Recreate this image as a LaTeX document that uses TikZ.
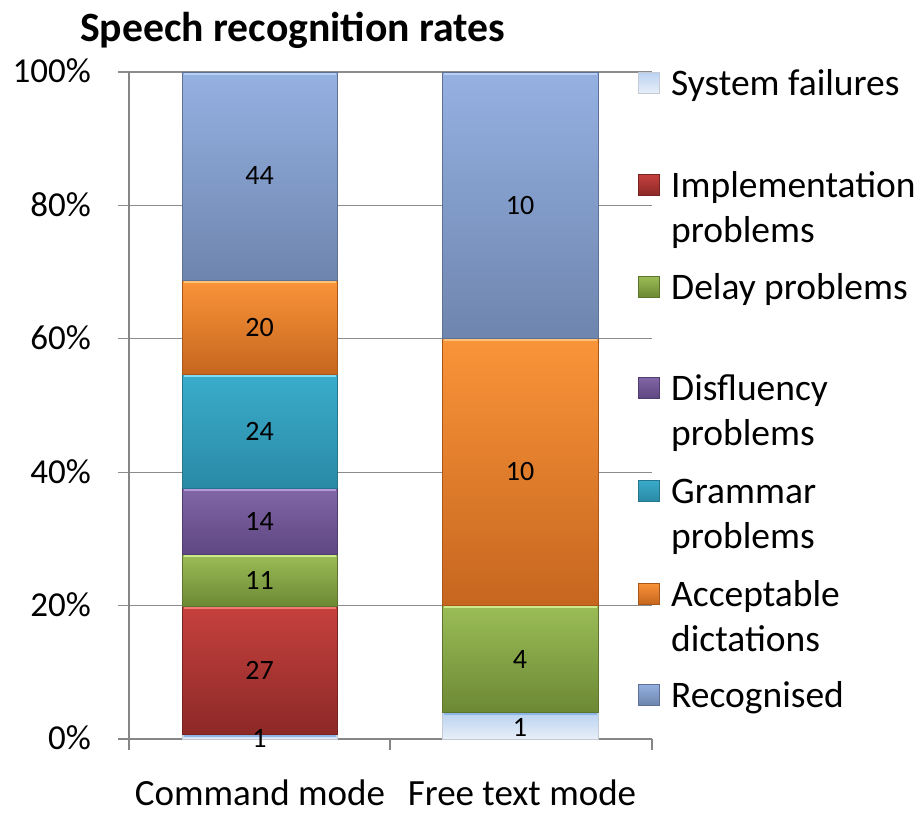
\documentclass[tikz,border=0pt]{standalone}
\usepackage{fontspec}
\setmainfont{Carlito}
\definecolor{gridc}{HTML}{8C8C8C}
\definecolor{axisc}{HTML}{868686}
\definecolor{recT}{HTML}{95B1E2}\definecolor{recB}{HTML}{6E85AE}\definecolor{recH}{HTML}{B9D0F2}
\definecolor{accT}{HTML}{FA9439}\definecolor{accB}{HTML}{C6661F}\definecolor{accH}{HTML}{FFC27A}
\definecolor{graT}{HTML}{3AACCB}\definecolor{graB}{HTML}{2A8AA6}\definecolor{graH}{HTML}{7FDDF2}
\definecolor{disT}{HTML}{8266A6}\definecolor{disB}{HTML}{5E4782}\definecolor{disH}{HTML}{B49AD8}
\definecolor{delT}{HTML}{9BBD57}\definecolor{delB}{HTML}{6C8834}\definecolor{delH}{HTML}{CDEB8A}
\definecolor{impT}{HTML}{C6413E}\definecolor{impB}{HTML}{8C2927}\definecolor{impH}{HTML}{F27A75}
\definecolor{sysT}{HTML}{B9D2F0}\definecolor{sysB}{HTML}{E8EFF9}\definecolor{sysH}{HTML}{8DB6E6}
\newcommand\barseg[5]{%
  \shade[top color=#5T, bottom color=#5B] (#1,#3) rectangle (#2,#4);
  \draw[#5H, line width=2pt] (#1+1.5,#3+1.5) -- (#2-1.5,#3+1.5);
  \draw[#5B!85!black, line width=0.8pt] (#1,#3) rectangle (#2,#4);
}
\newcommand\legmark[2]{%
  \shade[top color=#1T, bottom color=#1B] (638,#2-23) rectangle (659,#2-2);
  \draw[#1B!85!black, line width=0.6pt] (638,#2-23) rectangle (659,#2-2);
}
\tikzset{
  gridline/.style={draw=gridc, line width=1.3pt},
  axisline/.style={draw=axisc, line width=1.3pt},
  lbl/.style={font=\fontsize{37}{44}\selectfont, inner sep=0pt},
  ylbl/.style={font=\fontsize{35}{42}\selectfont, inner sep=0pt, anchor=east},
  val/.style={font=\fontsize{28}{34}\selectfont, inner sep=0pt},
  leg/.style={font=\fontsize{37.5}{45}\selectfont, anchor=base west, inner sep=0pt},
}
\begin{document}
\begin{tikzpicture}[x=1pt,y=-1pt]
\useasboundingbox[fill=white] (0,0) rectangle (920,814);
% gridlines and ticks
\foreach \yy in {72,205.4,338.8,472.2,605.6} {
  \draw[gridline] (118,\yy) -- (652,\yy);
}
\draw[axisline] (118,739) -- (652,739);
\draw[axisline] (129,72) -- (129,750);
\draw[axisline] (390,739) -- (390,750);
\draw[axisline] (652,739) -- (652,750);
% command mode bar
\barseg{182}{337}{734.3}{739}{sys}
\barseg{182}{337}{606.5}{734.3}{imp}
\barseg{182}{337}{554.5}{606.5}{del}
\barseg{182}{337}{488.3}{554.5}{dis}
\barseg{182}{337}{374.8}{488.3}{gra}
\barseg{182}{337}{280.1}{374.8}{acc}
\barseg{182}{337}{72}{280.1}{rec}
% free text bar
\barseg{442}{598}{712.3}{739}{sys}
\barseg{442}{598}{605.6}{712.3}{del}
\barseg{442}{598}{338.8}{605.6}{acc}
\barseg{442}{598}{72}{338.8}{rec}
% value labels
\node[val] (c1) at (259.5,738) {1};
\node[val] (c2) at (259.5,670.4) {27};
\node[val] (c3) at (259.5,580.5) {11};
\node[val] (c4) at (259.5,521.4) {14};
\node[val] (c5) at (259.5,431.6) {24};
\node[val] (c6) at (259.5,327.5) {20};
\node[val] (c7) at (259.5,176) {44};
\node[val] (f1) at (520,727) {1};
\node[val] (f2) at (520,659) {4};
\node[val] (f3) at (520,472) {10};
\node[val] (f4) at (520,205.4) {10};
% y axis labels
\node[ylbl] (y100) at (91,71) {100\%};
\node[ylbl] (y80) at (91,204.4) {80\%};
\node[ylbl] (y60) at (91,337.8) {60\%};
\node[ylbl] (y40) at (91,471.2) {40\%};
\node[ylbl] (y20) at (91,604.6) {20\%};
\node[ylbl] (y0) at (91,738) {0\%};
% category labels
\node[lbl, anchor=base] (cm) at (260,805) {Command mode};
\node[lbl, anchor=base] (ft) at (522,805) {Free text mode};
% title
\node[anchor=base west, inner sep=0pt, font=\bfseries\fontsize{41.7}{48}\selectfont] (title) at (80,41) {Speech recognition rates};
% legend
\legmark{sys}{95}
\node[leg] (l1) at (671,95) {System failures};
\legmark{imp}{197}
\node[leg] (l2) at (671,197) {Implementation};
\node[leg] (l2b) at (671,242) {problems};
\legmark{del}{299}
\node[leg] (l3) at (671,299) {Delay problems};
\legmark{dis}{400}
\node[leg] (l4) at (671,400) {Disfluency};
\node[leg] (l4b) at (671,445) {problems};
\legmark{gra}{503}
\node[leg] (l5) at (671,503) {Grammar};
\node[leg] (l5b) at (671,548) {problems};
\legmark{acc}{606}
\node[leg] (l6) at (671,606) {Acceptable};
\node[leg] (l6b) at (671,651) {dictations};
\legmark{rec}{707}
\node[leg] (l7) at (671,707) {Recognised};
\end{tikzpicture}
\end{document}
